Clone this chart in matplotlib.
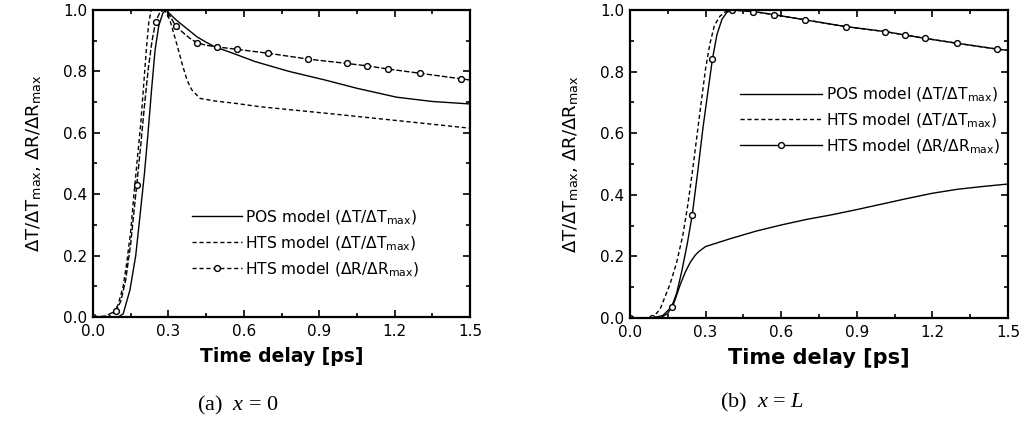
import numpy as np
import matplotlib
matplotlib.use("Agg")
import matplotlib.pyplot as plt
from matplotlib.ticker import MultipleLocator, FormatStrFormatter
from matplotlib.lines import Line2D

plt.rcParams['font.family'] = ['DejaVu Sans']
plt.rcParams['mathtext.fontset'] = 'custom'
plt.rcParams['mathtext.rm'] = 'DejaVu Sans'
plt.rcParams['mathtext.it'] = 'Liberation Serif:italic'

# ---- (a) x = 0 ----
a_t_pos = [0.0, 0.10, 0.12, 0.147, 0.17, 0.187, 0.205, 0.219, 0.233, 0.247, 0.262, 0.278, 0.29,
           0.33, 0.38, 0.413, 0.45, 0.485, 0.557, 0.645, 0.78, 0.923, 1.05, 1.208, 1.35, 1.5]
a_v_pos = [0.0, 0.0, 0.01, 0.088, 0.2, 0.33, 0.47, 0.6, 0.74, 0.87, 0.95, 0.99, 1.0,
           0.968, 0.935, 0.913, 0.895, 0.88, 0.859, 0.832, 0.80, 0.772, 0.745, 0.716, 0.702, 0.694]

a_t_hts = [0.0, 0.06, 0.08, 0.10, 0.12, 0.134, 0.15, 0.163, 0.177, 0.19, 0.202, 0.213, 0.222, 0.232,
           0.285, 0.306, 0.333, 0.358, 0.375, 0.393, 0.426, 0.49, 0.557, 0.664, 0.923, 1.208, 1.5]
a_v_hts = [0.0, 0.0, 0.012, 0.04, 0.1, 0.175, 0.28, 0.4, 0.52, 0.63, 0.76, 0.88, 0.96, 1.0,
           1.0, 0.967, 0.89, 0.815, 0.77, 0.74, 0.712, 0.703, 0.697, 0.685, 0.664, 0.64, 0.615]

a_t_ref = [0.0, 0.05, 0.09, 0.11, 0.13, 0.15, 0.174, 0.19, 0.205, 0.22, 0.235, 0.249, 0.265, 0.28,
           0.295, 0.31, 0.329, 0.36, 0.385, 0.413, 0.45, 0.492, 0.572, 0.698, 0.857, 1.009, 1.091,
           1.172, 1.30, 1.463, 1.5]
a_v_ref = [0.0, 0.003, 0.02, 0.05, 0.12, 0.24, 0.43, 0.56, 0.69, 0.81, 0.9, 0.962, 0.99, 1.0,
           0.995, 0.975, 0.948, 0.925, 0.908, 0.894, 0.885, 0.88, 0.872, 0.859, 0.84, 0.826, 0.818,
           0.808, 0.794, 0.776, 0.772]
a_t_mk = [0.0, 0.09, 0.174, 0.249, 0.329, 0.413, 0.492, 0.572, 0.698, 0.857, 1.009, 1.091, 1.172, 1.30, 1.463]
a_v_mk = [0.0, 0.02, 0.43, 0.962, 0.948, 0.894, 0.88, 0.872, 0.859, 0.84, 0.826, 0.818, 0.808, 0.794, 0.776]

# ---- (b) x = L ----
b_t_pos = [0.0, 0.12, 0.15, 0.175, 0.2, 0.22, 0.24, 0.26, 0.275, 0.3, 0.4, 0.5, 0.6, 0.7, 0.8,
           0.9, 1.0, 1.1, 1.2, 1.3, 1.4, 1.5]
b_v_pos = [0.0, 0.0, 0.015, 0.05, 0.11, 0.15, 0.182, 0.205, 0.217, 0.232, 0.258, 0.282, 0.302, 0.32,
           0.335, 0.352, 0.37, 0.388, 0.405, 0.418, 0.427, 0.435]

b_t_hts = [0.0, 0.09, 0.12, 0.159, 0.185, 0.21, 0.23, 0.25, 0.267, 0.284, 0.3, 0.317, 0.335, 0.357,
           0.38, 0.405, 0.49, 0.57, 0.695, 0.857, 1.012, 1.091, 1.17, 1.298, 1.457, 1.5]
b_v_hts = [0.0, 0.0, 0.03, 0.11, 0.18, 0.27, 0.37, 0.49, 0.6, 0.71, 0.81, 0.89, 0.95, 0.98,
           0.995, 1.0, 0.995, 0.985, 0.968, 0.946, 0.93, 0.919, 0.908, 0.892, 0.873, 0.869]

b_t_ref = [0.0, 0.086, 0.13, 0.165, 0.185, 0.205, 0.227, 0.247, 0.268, 0.29, 0.31, 0.327, 0.345,
           0.365, 0.385, 0.405, 0.49, 0.57, 0.695, 0.857, 1.012, 1.091, 1.17, 1.298, 1.457, 1.5]
b_v_ref = [0.0, 0.0, 0.008, 0.036, 0.08, 0.15, 0.24, 0.335, 0.47, 0.62, 0.74, 0.84, 0.92,
           0.97, 0.993, 1.0, 0.995, 0.985, 0.968, 0.946, 0.93, 0.919, 0.908, 0.892, 0.873, 0.869]
b_t_mk = [0.0, 0.086, 0.165, 0.247, 0.327, 0.405, 0.49, 0.57, 0.695, 0.857, 1.012, 1.091, 1.17, 1.298, 1.457]
b_v_mk = [0.0, 0.0, 0.036, 0.335, 0.84, 1.0, 0.995, 0.985, 0.968, 0.946, 0.93, 0.919, 0.908, 0.892, 0.873]

labels = ['POS model (ΔT/ΔT$_{\\mathrm{max}}$)',
          'HTS model (ΔT/ΔT$_{\\mathrm{max}}$)',
          'HTS model (ΔR/ΔR$_{\\mathrm{max}}$)']

fig = plt.figure(figsize=(10.22, 4.21), dpi=100)
ax1 = fig.add_axes([93/1022, 1-317/421, 377/1022, 307/421])
ax2 = fig.add_axes([630/1022, 1-318/421, 378/1022, 308/421])

lw = 1.0
dash = (0, (3, 2))
mk = dict(marker='o', markersize=4.2, markerfacecolor='white', markeredgecolor='black', markeredgewidth=1.0)


def draw_panel(ax, tp, vp, th, vh, tr, vr, tm, vm, ref_ls, xlab_size):
    ax.plot(tp, vp, color='black', lw=lw, ls='-')
    ax.plot(th, vh, color='black', lw=lw, ls=dash)
    ax.plot(tr, vr, color='black', lw=lw, ls=ref_ls)
    ax.plot(tm, vm, ls='none', **mk)
    ax.set_xlim(0, 1.5)
    ax.set_ylim(0, 1.0)
    ax.xaxis.set_major_locator(MultipleLocator(0.3))
    ax.xaxis.set_minor_locator(MultipleLocator(0.15))
    ax.yaxis.set_major_locator(MultipleLocator(0.2))
    ax.yaxis.set_minor_locator(MultipleLocator(0.1))
    ax.xaxis.set_major_formatter(FormatStrFormatter('%.1f'))
    ax.yaxis.set_major_formatter(FormatStrFormatter('%.1f'))
    ax.tick_params(which='both', direction='in', top=True, right=True, width=1.2)
    ax.tick_params(which='major', length=5, labelsize=11)
    ax.tick_params(axis='x', which='major', pad=5)
    ax.tick_params(axis='y', which='major', pad=4)
    ax.tick_params(which='minor', length=3)
    for s in ax.spines.values():
        s.set_linewidth(1.6)
    ax.set_xlabel('Time delay [ps]', fontsize=xlab_size, fontweight='bold', labelpad=6)
    ax.set_ylabel('ΔT/ΔT$_{\\mathrm{max}}$, ΔR/ΔR$_{\\mathrm{max}}$', fontsize=13, labelpad=14)


draw_panel(ax1, a_t_pos, a_v_pos, a_t_hts, a_v_hts, a_t_ref, a_v_ref, a_t_mk, a_v_mk, (0, (4, 1.5)), 13.5)
draw_panel(ax2, b_t_pos, b_v_pos, b_t_hts, b_v_hts, b_t_ref, b_v_ref, b_t_mk, b_v_mk, '-', 15)

h_a = [Line2D([], [], color='black', lw=lw, ls='-'),
       Line2D([], [], color='black', lw=lw, ls=dash),
       Line2D([], [], color='black', lw=lw, ls=dash, **mk)]
h_b = [Line2D([], [], color='black', lw=lw, ls='-'),
       Line2D([], [], color='black', lw=lw, ls=dash),
       Line2D([], [], color='black', lw=lw, ls='-', **mk)]

ax1.legend(h_a, labels, loc='upper left', bbox_to_anchor=(0.263, 0.355), frameon=False,
           fontsize=11.2, handlelength=3.2, handletextpad=0.2, labelspacing=0.5,
           borderpad=0, borderaxespad=0, numpoints=1)
ax2.legend(h_b, labels, loc='upper left', bbox_to_anchor=(0.291, 0.755), frameon=False,
           fontsize=11.2, handlelength=5.3, handletextpad=0.2, labelspacing=0.5,
           borderpad=0, borderaxespad=0, numpoints=1)

fig.text(197/1022, 1-405/421, '(a)  $x$ = 0', fontsize=16, family='Liberation Serif', va='center')
fig.text(720/1022, 1-402/421, '(b)  $x$ = $L$', fontsize=16, family='Liberation Serif', va='center')

fig.savefig('out.png', dpi=100)
